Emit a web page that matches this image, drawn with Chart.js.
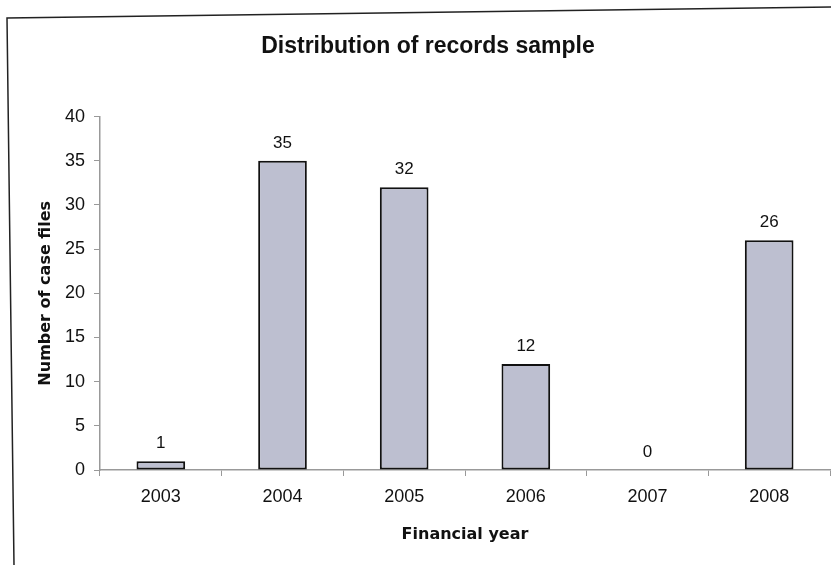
<!DOCTYPE html>
<html>
<head>
<meta charset="utf-8">
<script src="https://cdn.jsdelivr.net/npm/chart.js@4/dist/chart.umd.min.js"></script>
<style>
  html, body { margin: 0; padding: 0; background: #fff; }
  #wrap { width: 831px; height: 565px; }
</style>
</head>
<body>
<div id="wrap"><canvas id="chart" width="831" height="565"></canvas></div>
<script>
// data
var years = ["2003", "2004", "2005", "2006", "2007", "2008"];
var caseFiles = [1, 35, 32, 12, 0, 26];
var yTicks = [0, 5, 10, 15, 20, 25, 30, 35, 40];

var fontFamily = "Arial, 'Liberation Sans', Helvetica, sans-serif";
var titleFamily = "'DejaVu Sans', Arial, sans-serif";

// value labels above each bar, like the Excel data labels
var valueLabels = {
  id: 'valueLabels',
  afterDatasetsDraw: function(chart) {
    var ctx = chart.ctx;
    var meta = chart.getDatasetMeta(0);
    ctx.save();
    ctx.font = "17px " + fontFamily;
    ctx.fillStyle = "#111";
    ctx.textAlign = "center";
    ctx.textBaseline = "bottom";
    meta.data.forEach(function(bar, i) {
      ctx.fillText(caseFiles[i], bar.x, bar.y - 9);
    });
    ctx.restore();
  }
};

// the outer frame of the scanned chart (left and top edges)
var frame = {
  id: 'frame',
  beforeDraw: function(chart) {
    var ctx = chart.ctx;
    ctx.save();
    ctx.strokeStyle = "#222";
    ctx.lineWidth = 1.5;
    ctx.beginPath();
    ctx.moveTo(14, 565);
    ctx.lineTo(7, 18);
    ctx.lineTo(831, 7);
    ctx.stroke();
    ctx.restore();
  }
};

var ctx = document.getElementById("chart").getContext("2d");
var chart = new Chart(ctx, {
  type: 'bar',
  data: {
    labels: years,
    datasets: [{
      data: caseFiles,
      backgroundColor: "#bdbfd0",
      borderColor: "#111",
      borderWidth: 2,
      borderSkipped: false,
      barPercentage: 0.8,
      categoryPercentage: 0.5
    }]
  },
  options: {
    responsive: false,
    animation: false,
    layout: { padding: { top: 20, right: 1, left: 26, bottom: 17 } },
    plugins: {
      legend: { display: false },
      tooltip: { enabled: false },
      title: {
        display: true,
        text: "Distribution of records sample",
        color: "#111",
        font: { family: fontFamily, size: 23, weight: 'bold' },
        padding: { top: 13, bottom: 56 }
      }
    },
    scales: {
      x: {
        grid: { display: true, drawOnChartArea: false, drawTicks: true, tickLength: 6, color: "#999", offset: true },
        border: { color: "#999", width: 1.5 },
        ticks: { color: "#111", font: { family: fontFamily, size: 18 }, padding: 10 },
        title: {
          display: true,
          text: "Financial year",
          color: "#111",
          font: { family: titleFamily, size: 16, weight: 'bold' },
          padding: { top: 12, bottom: 4 }
        },
        afterFit: function(scale) { scale.height = 78; }
      },
      y: {
        min: 0,
        max: 40,
        afterBuildTicks: function(scale) {
          scale.ticks = yTicks.map(function(v) { return { value: v }; });
        },
        grid: { display: true, drawOnChartArea: false, drawTicks: true, tickLength: 6, color: "#999" },
        border: { color: "#999", width: 1.5 },
        ticks: { color: "#111", font: { family: fontFamily, size: 18 }, padding: 9 },
        title: {
          display: true,
          text: "Number of case files",
          color: "#111",
          font: { family: titleFamily, size: 16, weight: 'bold' },
          padding: { top: 10, bottom: 4 }
        },
        afterFit: function(scale) { scale.width = 74; }
      }
    }
  },
  plugins: [frame, valueLabels]
});
</script>
</body>
</html>
